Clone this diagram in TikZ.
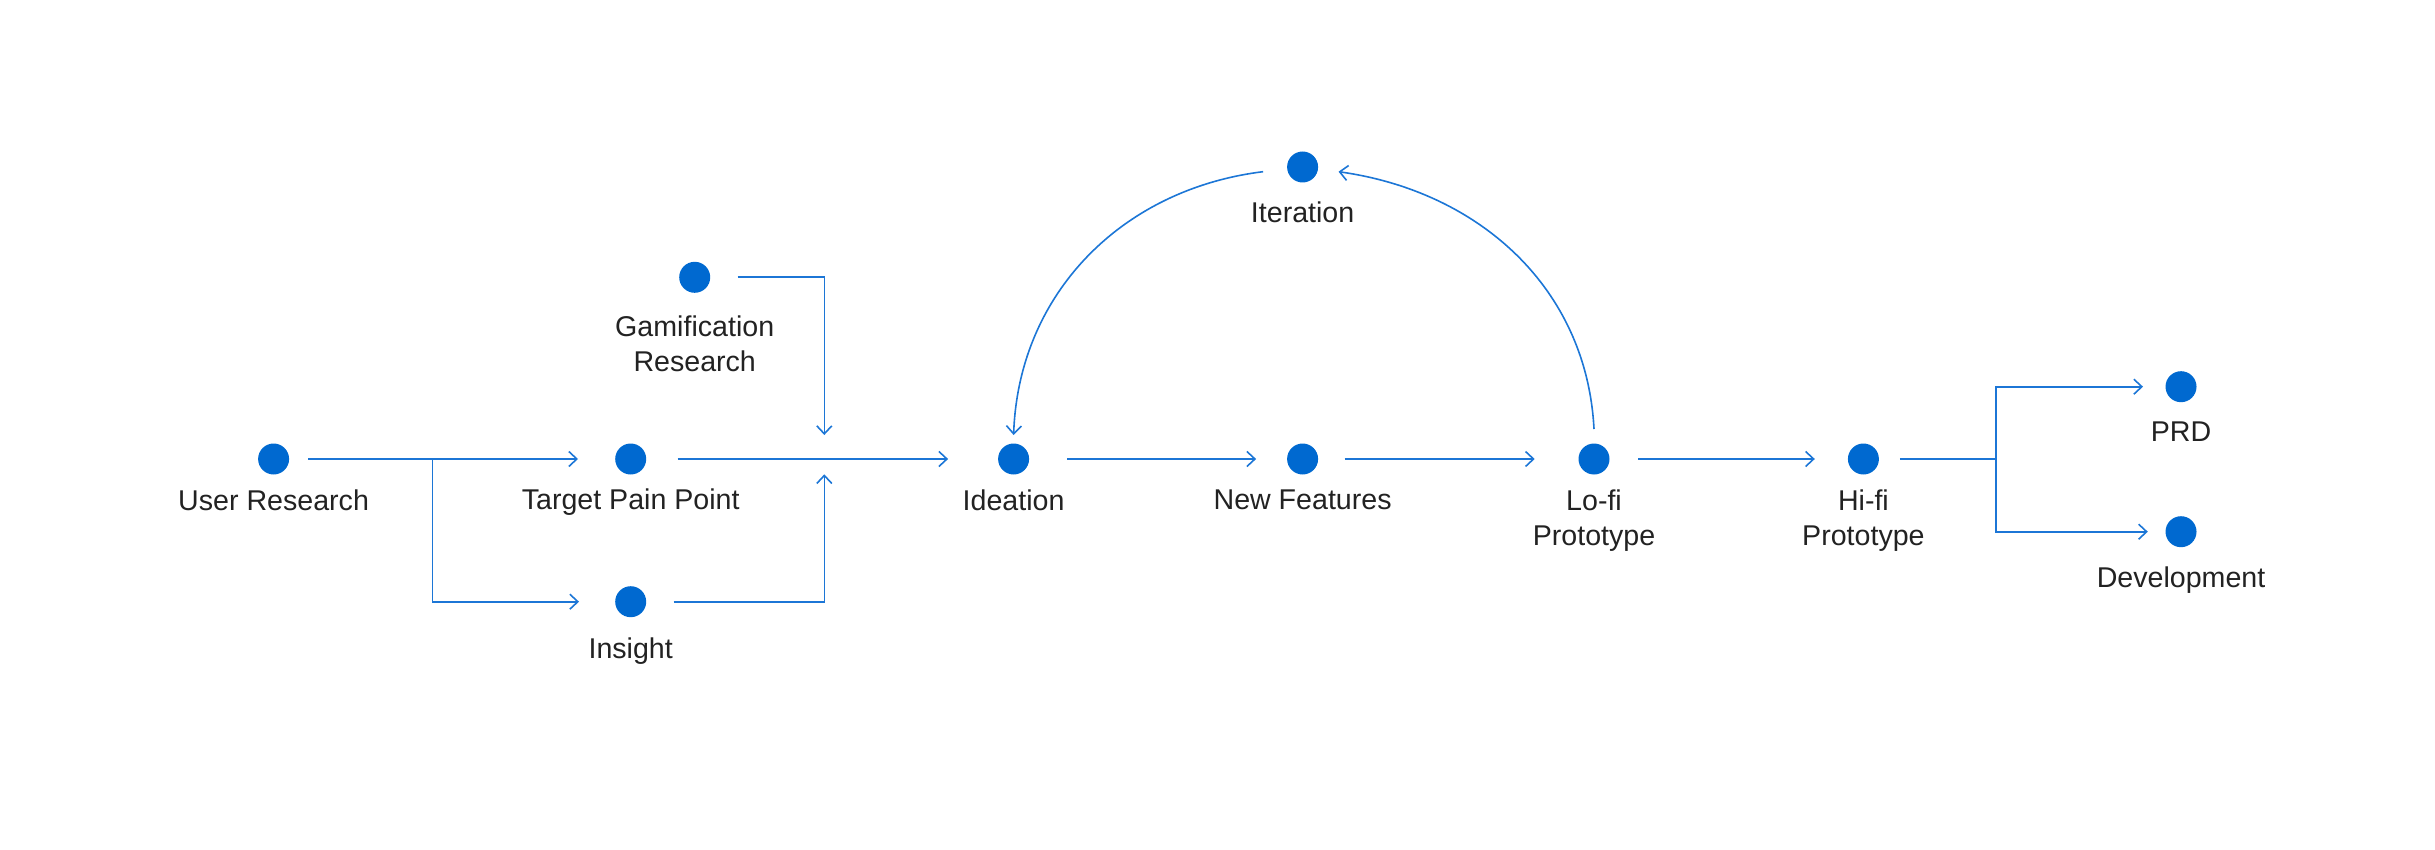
\documentclass[tikz,border=0pt]{standalone}
\usepackage{fontspec}
\setmainfont{Liberation Sans}
\usetikzlibrary{arrows.meta, positioning}
\definecolor{dotblue}{RGB}{0,105,208}
\definecolor{lineblue}{RGB}{28,118,214}
\definecolor{txtgray}{RGB}{34,34,34}

\begin{document}
\begin{tikzpicture}[x=0.5pt, y=-0.5pt,
    dot/.style={circle, fill=dotblue, minimum size=15.5pt, inner sep=0pt, outer sep=0pt},
    lbl/.style={inner sep=0pt, outer sep=0pt, align=center, text=txtgray,
                font=\fontsize{14.3}{17.5}\selectfont},
    flow/.style={draw=lineblue, line width=0.8pt, ->,
                 >={Straight Barb[length=4pt, width=7.5pt]}}]
    \useasboundingbox (0, 0) rectangle (2435, 850);
    \node[dot] (ur)   at (273.6, 459) {};
    \node[dot] (tpp)  at (630.7, 459) {};
    \node[dot] (ins)  at (630.7, 601.7) {};
    \node[dot] (gam)  at (694.7, 277.3) {};
    \node[dot] (ide)  at (1013.6, 459) {};
    \node[dot] (nf)   at (1302.6, 459) {};
    \node[dot] (lofi) at (1594, 459) {};
    \node[dot] (hifi) at (1863.4, 459) {};
    \node[dot] (itr)  at (1302.6, 167) {};
    \node[dot] (prd)  at (2181, 386.7) {};
    \node[dot] (dev)  at (2181, 531.7) {};
    \node[lbl, below=7.75pt of ur]   (urt)   {User Research};
    \node[lbl, below=7.25pt of tpp]  (tppt)  {Target Pain Point};
    \node[lbl, below=10.5pt of ins]  (inst)  {Insight};
    \node[lbl, below=11.5pt of gam]  (gamt)  {Gamification\\Research};
    \node[lbl, below=7.75pt of ide]  (idet)  {Ideation};
    \node[lbl, below=7.75pt of nf]   (nft)   {New Features};
    \node[lbl, below=7.75pt of lofi] (lofit) {Lo-fi\\Prototype};
    \node[lbl, below=7.75pt of hifi] (hifit) {Hi-fi\\Prototype};
    \node[lbl, below=9.6pt of itr]   (itrt)  {Iteration};
    \node[lbl, below=9.75pt of prd]  (prdt)  {PRD};
    \node[lbl, below=9.75pt of dev]  (devt)  {Development};
    \coordinate (urj) at (432.4, 459);
    \coordinate (gmt) at (824.3, 435);
    \coordinate (inm) at (824.3, 474.3);
    \coordinate (hfj) at (1995.8, 459);
    \draw[flow] ([xshift=9.5pt]ur.east) -- ([xshift=-18.6pt]tpp.west);
    \draw[flow] (urj) |- ([xshift=-18.1pt]ins.west);
    \draw[flow] ([xshift=15.75pt]tpp.east) -- ([xshift=-25pt]ide.west);
    \draw[flow] ([xshift=13.75pt]gam.east) -| (gmt);
    \draw[flow] ([xshift=13.75pt]ins.east) -| (inm);
    \draw[flow] ([xshift=19pt]ide.east) -- ([xshift=-15.5pt]nf.west);
    \draw[flow] ([xshift=13.3pt]nf.east) -- ([xshift=-21.9pt]lofi.west);
    \draw[flow] ([xshift=14.25pt]lofi.east) -- ([xshift=-16.55pt]hifi.west);
    \draw[flow] ([xshift=10.45pt]hifi.east) -- (hfj) |- ([xshift=-11.25pt]prd.west);
    \draw[flow] (hfj) |- ([xshift=-8.85pt]dev.west);
    \draw[flow] ([yshift=7.25pt]lofi.north) to[out=93, in=-8]
                ([xshift=10.2pt, yshift=-2.35pt]itr.east);
    \draw[flow] ([xshift=-12pt, yshift=-2.35pt]itr.west) to[out=187, in=88]
                ([yshift=4.25pt]ide.north);
\end{tikzpicture}
\end{document}
